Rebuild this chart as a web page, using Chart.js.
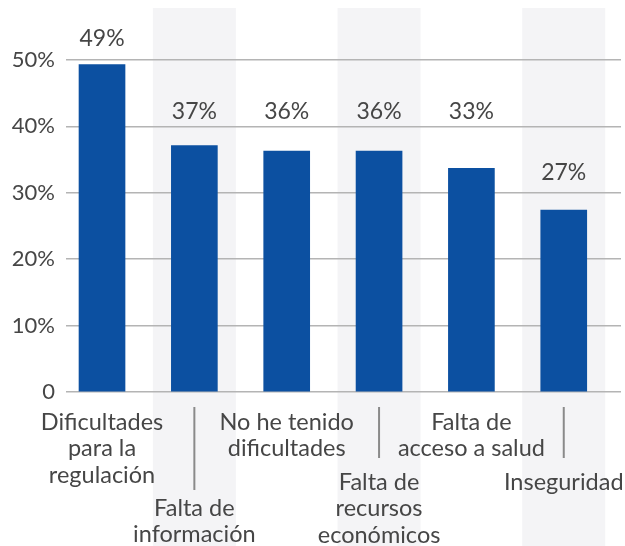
<!DOCTYPE html>
<html lang="es">
<head>
  <meta charset="UTF-8">
  <title>Dificultades</title>
  <script src="https://cdn.jsdelivr.net/npm/chart.js"></script>
  <style>
    body { margin: 0; background: #fff; }
    #wrap { width: 625px; height: 546px; position: relative; }
  </style>
</head>
<body>
  <div id="wrap"><canvas id="grafico"></canvas></div>

  <script>
    // datos
    const categorias = [
      ['Dificultades', 'para la', 'regulación'],
      ['Falta de', 'información'],
      ['No he tenido', 'dificultades'],
      ['Falta de', 'recursos', 'económicos'],
      ['Falta de', 'acceso a salud'],
      ['Inseguridad']
    ];
    const valores = [49.3, 37.1, 36.3, 36.3, 33.7, 27.4];
    const etiquetas = ['49%', '37%', '36%', '36%', '33%', '27%'];
    const ticksY = [0, 10, 20, 30, 40, 50];

    // donde va cada etiqueta de valor (en unidades del eje y)
    const posEtiqueta = [53.3, 42.2, 42.2, 42.2, 42.2, 33.1];

    const FUENTE = 'Lato, "Open Sans", sans-serif';
    const GRIS = '#464646';

    // columnas sombreadas detrás de las categorías pares
    const sombreado = {
      id: 'sombreado',
      beforeDraw(chart) {
        const { ctx, scales: { x } } = chart;
        ctx.save();
        ctx.fillStyle = '#f4f4f6';
        categorias.forEach((c, i) => {
          if (i % 2 === 1) {
            const cx = x.getPixelForValue(i);
            ctx.fillRect(cx - 41.5, 8, 83, chart.height - 8);
          }
        });
        ctx.restore();
      }
    };

    // etiquetas del eje x escalonadas, con separadores
    const ejeX = {
      id: 'ejeX',
      afterDraw(chart) {
        const { ctx, chartArea, scales: { x } } = chart;
        const top = chartArea.bottom + 30;
        const lh = 26.5;
        ctx.save();
        ctx.font = '23.5px ' + FUENTE;
        ctx.fillStyle = GRIS;
        ctx.textAlign = 'center';
        ctx.textBaseline = 'middle';
        categorias.forEach((lineas, i) => {
          const cx = x.getPixelForValue(i);
          let y0 = top;
          if (i % 2 === 1) {
            const vecinas = Math.max(
              (categorias[i - 1] || []).length,
              (categorias[i + 1] || []).length
            );
            const fin = top + 36 + (vecinas - 2) * 32;
            ctx.strokeStyle = '#8a8a8a';
            ctx.lineWidth = 2;
            ctx.beginPath();
            ctx.moveTo(cx, chartArea.bottom + 15);
            ctx.lineTo(cx, fin);
            ctx.stroke();
            y0 = fin + 24 - (vecinas - 2) * 6;
          }
          lineas.forEach((t, k) => ctx.fillText(t, cx, y0 + k * lh));
        });
        ctx.restore();
      }
    };

    // porcentajes sobre las barras
    const valoresBarras = {
      id: 'valoresBarras',
      afterDatasetsDraw(chart) {
        const { ctx, scales: { x, y } } = chart;
        ctx.save();
        ctx.font = '23px ' + FUENTE;
        ctx.fillStyle = GRIS;
        ctx.textAlign = 'center';
        ctx.textBaseline = 'middle';
        etiquetas.forEach((t, i) => {
          ctx.fillText(t, x.getPixelForValue(i), y.getPixelForValue(posEtiqueta[i]));
        });
        ctx.restore();
      }
    };

    new Chart(document.getElementById('grafico'), {
      type: 'bar',
      data: {
        datasets: [{
          data: valores.map((v, i) => ({ x: i, y: v })),
          backgroundColor: '#0c50a1',
          barThickness: 46,
          borderWidth: 0
        }]
      },
      options: {
        responsive: true,
        maintainAspectRatio: false,
        animation: false,
        layout: { padding: { top: 60, bottom: 154, right: 4, left: 0 } },
        plugins: { legend: { display: false }, tooltip: { enabled: false } },
        scales: {
          x: {
            type: 'linear',
            display: false,
            offset: false,
            min: -0.39,
            max: 5.62
          },
          y: {
            min: 0,
            max: 50,
            afterFit(s) { s.width = 66; },
            afterBuildTicks(s) { s.ticks = ticksY.map(v => ({ value: v })); },
            border: { display: false },
            grid: { color: '#b4b4b4', lineWidth: 1.5, drawTicks: false },
            ticks: {
              padding: 11,
              color: GRIS,
              font: { size: 22, family: FUENTE },
              callback: v => v === 0 ? '0' : v + '%'
            }
          }
        }
      },
      plugins: [sombreado, ejeX, valoresBarras]
    });
  </script>
</body>
</html>
